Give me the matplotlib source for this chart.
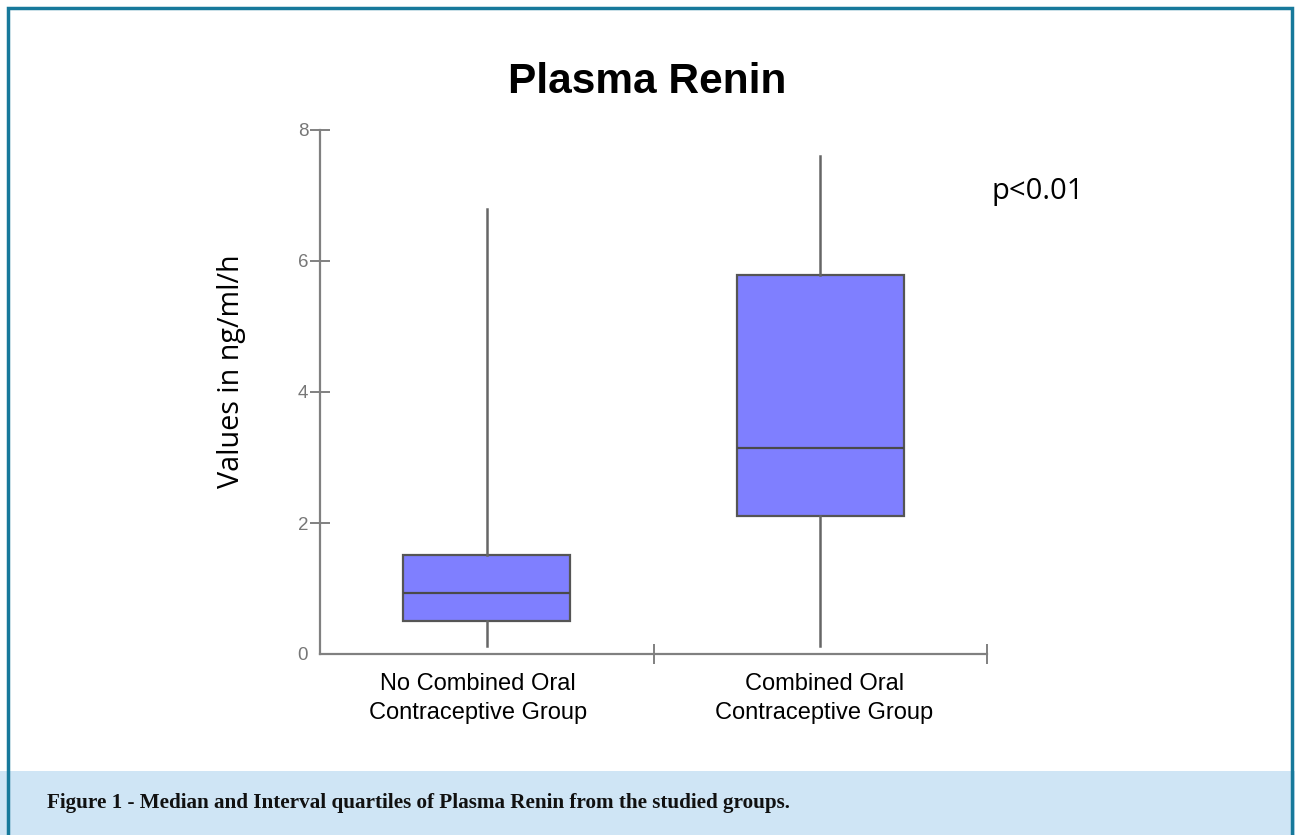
import matplotlib
matplotlib.use("Agg")
import matplotlib.pyplot as plt
import matplotlib.transforms as mtransforms
from matplotlib.patches import Rectangle

categories = ["No Combined Oral\nContraceptive Group", "Combined Oral\nContraceptive Group"]
whisker_low = [0.12, 0.12]
q1 = [0.50, 2.11]
median = [0.93, 3.15]
q3 = [1.51, 5.78]
whisker_high = [6.80, 7.61]
y_ticks = [0, 2, 4, 6, 8]
title = "Plasma Renin"
ylabel = "Values in ng/ml/h"
annotation = "p<0.01"
caption = "Figure 1 - Median and Interval quartiles of Plasma Renin from the studied groups."

W, H = 1295, 835
fig = plt.figure(figsize=(W / 100, H / 100), dpi=100)
fig.patch.set_facecolor("white")

# caption band and border
fig.add_artist(Rectangle((0, 0), 1, (H - 771) / H, transform=fig.transFigure,
                         facecolor="#cfe5f5", edgecolor="none", zorder=0))
border = "#17799b"
fig.add_artist(Rectangle((7.5 / W, -0.01), (1291.5 - 7.5) / W, (H - 8) / H + 0.01,
                         transform=fig.transFigure, facecolor="none",
                         edgecolor=border, linewidth=2.5, zorder=5))

ax = fig.add_axes([320 / W, (H - 654) / H, 667 / W, 524 / H])
positions = [0.5, 1.5]
stats = []
for i in range(len(categories)):
    stats.append(dict(whislo=whisker_low[i], q1=q1[i], med=median[i],
                      q3=q3[i], whishi=whisker_high[i], fliers=[]))
ax.bxp(stats, positions=positions, widths=0.5, patch_artist=True,
       showcaps=False, showfliers=False,
       boxprops=dict(facecolor="#7f7fff", edgecolor="#555555", linewidth=1.6),
       medianprops=dict(color="#4a4a4a", linewidth=1.6),
       whiskerprops=dict(color="#666666", linewidth=1.8))

ax.set_xlim(0, 2)
ax.set_ylim(0, 8)
for s in ["top", "right"]:
    ax.spines[s].set_visible(False)
for s in ["left", "bottom"]:
    ax.spines[s].set_color("#808080")
    ax.spines[s].set_linewidth(1.6)

ax.set_yticks(y_ticks)
ax.set_yticklabels([str(v) for v in y_ticks], fontfamily="Liberation Sans",
                   fontsize=13.5, color="#777777")
ax.tick_params(axis="y", direction="inout", length=15, width=1.4,
               color="#808080", pad=1)
ax.yaxis.get_major_ticks()[0].tick1line.set_visible(False)

ax.set_xticks([1, 2])
ax.set_xticklabels([])
ax.tick_params(axis="x", which="major", direction="inout", length=15,
               width=1.4, color="#808080")
ax.set_xticks(positions, minor=True)
labels = ax.set_xticklabels(categories, minor=True, fontfamily="Liberation Sans",
                            fontsize=17, color="black", linespacing=1.4)
ax.tick_params(axis="x", which="minor", length=0, pad=14)
# small horizontal offsets of the category labels as in the reference
for lab, dx in zip(labels, [-9, 4]):
    lab.set_transform(lab.get_transform() +
                      mtransforms.ScaledTranslation(dx / 100, 0, fig.dpi_scale_trans))

fig.text(232 / W, 1 - 371 / H, ylabel, ha="center", va="center",
         rotation=90, fontfamily="Open Sans", fontsize=20.7, color="black")

fig.text(647 / W, 1 - 82 / H, title, ha="center", va="center",
         fontfamily="Liberation Sans", fontweight="bold", fontsize=30.5)
fig.text(992 / W, 1 - 191 / H, annotation, ha="left", va="center",
         fontfamily="Open Sans", fontsize=21, color="black")
fig.text(47 / W, 1 - 803 / H, caption, ha="left", va="center",
         fontfamily="Liberation Serif", fontweight="bold", fontsize=15.25,
         color="#111111")

fig.savefig("out.png", dpi=100, facecolor=fig.get_facecolor())
